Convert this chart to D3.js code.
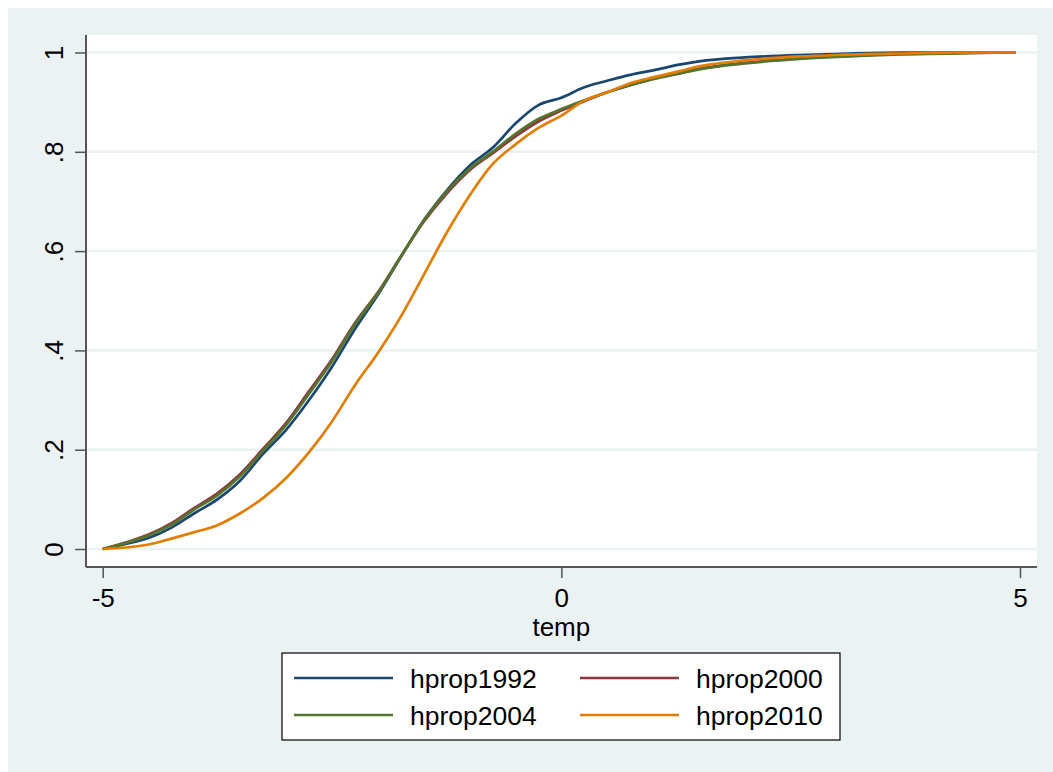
<!DOCTYPE html>
<html>
<head>
<meta charset="utf-8">
<script src="https://cdn.jsdelivr.net/npm/d3@7"></script>
<style>
  body { margin: 0; background: #fff; }
  text { font-family: Arial, "Liberation Sans", sans-serif; fill: #000; }
</style>
</head>
<body>
<svg id="chart" width="1053" height="772"></svg>
<script>
// temp grid the curves were read at
const temps = [-5, -4.75, -4.5, -4.25, -4, -3.75, -3.5, -3.25, -3, -2.75, -2.5, -2.25, -2, -1.75, -1.5, -1.25,
    -1, -0.75, -0.5, -0.25, 0, 0.25, 0.5, 0.75, 1, 1.3, 1.5, 2, 2.6, 3, 3.7, 4, 4.5, 4.95]

const hprop1992 = [0, 0.010, 0.022, 0.043, 0.072, 0.100, 0.138, 0.192, 0.240, 0.300, 0.367, 0.443, 0.512, 0.588, 0.662, 0.722,
    0.772, 0.808, 0.857, 0.894, 0.909, 0.930, 0.943, 0.955, 0.964, 0.976, 0.982, 0.990, 0.995, 0.997, 1.0, 1.0, 1.0, 1.0]
const hprop2000 = [0, 0.013, 0.029, 0.052, 0.083, 0.112, 0.151, 0.202, 0.254, 0.318, 0.382, 0.455, 0.517, 0.589, 0.659, 0.716,
    0.763, 0.797, 0.831, 0.861, 0.883, 0.902, 0.920, 0.934, 0.947, 0.959, 0.967, 0.979, 0.988, 0.992, 0.997, 0.998, 0.999, 1.0]
const hprop2004 = [0, 0.012, 0.027, 0.049, 0.080, 0.108, 0.147, 0.198, 0.250, 0.313, 0.378, 0.452, 0.515, 0.589, 0.661, 0.720,
    0.766, 0.800, 0.836, 0.866, 0.886, 0.904, 0.920, 0.934, 0.946, 0.958, 0.966, 0.978, 0.987, 0.991, 0.996, 0.997, 0.999, 1.0]
const hprop2010 = [0, 0.003, 0.009, 0.021, 0.034, 0.048, 0.072, 0.103, 0.143, 0.195, 0.257, 0.330, 0.395, 0.468, 0.552, 0.637,
    0.712, 0.775, 0.815, 0.848, 0.873, 0.903, 0.920, 0.938, 0.950, 0.963, 0.972, 0.984, 0.992, 0.995, 0.998, 0.999, 1.0, 1.0]

const seriesNames = ['hprop1992', 'hprop2000', 'hprop2004', 'hprop2010']
const seriesColors = ['#1a476f', '#90353b', '#55752f', '#e37e00']
const xTicks = [-5, 0, 5]
const yTicks = [0, 0.2, 0.4, 0.6, 0.8, 1]
const yTickLabels = ['0', '.2', '.4', '.6', '.8', '1']

const series = [hprop1992, hprop2000, hprop2004, hprop2010]

const svg = d3.select('#chart')
const bg = '#eaf2f3'
const axisCol = '#555'

// outer graph region
svg.append('rect').attr('x', 8).attr('y', 8).attr('width', 1045).attr('height', 764).attr('fill', bg)

// plot region
const plot = { left: 86, right: 1037, top: 35, bottom: 567 }
svg.append('rect')
    .attr('x', plot.left).attr('y', plot.top)
    .attr('width', plot.right - plot.left).attr('height', plot.bottom - plot.top)
    .attr('fill', '#fff')

const x = d3.scaleLinear().domain([-5, 5]).range([102.7, 1020])
const y = d3.scaleLinear().domain([0, 1]).range([549, 52.5])

// gridlines
svg.append('g').selectAll('line')
    .data(yTicks)
    .enter().append('line')
    .attr('x1', plot.left).attr('x2', plot.right)
    .attr('y1', d => y(d)).attr('y2', d => y(d))
    .attr('stroke', bg).attr('stroke-width', 2.5)

// lines
const line = d3.line()
    .x((d, i) => x(temps[i]))
    .y(d => y(d))
    .curve(d3.curveMonotoneX)

svg.append('g')
    .attr('fill', 'none')
    .attr('stroke-width', 2.7)
    .attr('stroke-linejoin', 'round')
    .selectAll('path')
    .data(series)
    .enter().append('path')
    .attr('d', d => line(d))
    .attr('stroke', (d, i) => seriesColors[i])

// y axis
const gy = svg.append('g').attr('transform', `translate(${plot.left},0)`)
    .call(d3.axisLeft(y).tickValues(yTicks).tickSize(11).tickFormat((d, i) => yTickLabels[i]))
gy.select('.domain').attr('d', `M0,${plot.top}V${plot.bottom}`).attr('stroke', axisCol).attr('stroke-width', 2)
gy.selectAll('.tick line').attr('stroke', axisCol).attr('stroke-width', 1.5)
gy.selectAll('.tick text')
    .attr('font-size', 26)
    .attr('font-family', 'Arial, "Liberation Sans", sans-serif')
    .attr('fill', '#000')
    .attr('transform', 'rotate(-90)')
    .attr('x', 0).attr('y', -23).attr('dy', 0)
    .attr('text-anchor', 'middle')

// x axis
const gx = svg.append('g').attr('transform', `translate(0,${plot.bottom})`)
    .call(d3.axisBottom(x).tickValues(xTicks).tickSize(11).tickFormat(d3.format('d')))
gx.select('.domain').attr('d', `M${plot.left},0H${plot.right}`).attr('stroke', axisCol).attr('stroke-width', 2)
gx.selectAll('.tick line').attr('stroke', axisCol).attr('stroke-width', 1.5)
gx.selectAll('.tick text')
    .attr('font-size', 26)
    .attr('font-family', 'Arial, "Liberation Sans", sans-serif')
    .attr('fill', '#000')
    .attr('y', 40).attr('dy', 0)
    .text(d => d < 0 ? '-' + Math.abs(d) : d)  // plain hyphen like the original

svg.append('text')
    .attr('x', x(0)).attr('y', 636)
    .attr('text-anchor', 'middle')
    .attr('font-size', 26)
    .text('temp')

// legend
const legend = svg.append('g')
legend.append('rect')
    .attr('x', 282).attr('y', 653).attr('width', 558).attr('height', 87)
    .attr('fill', '#fff').attr('stroke', '#000').attr('stroke-width', 1.2)

const cols = [294, 580]
const rows = [678, 715]
seriesNames.forEach((name, i) => {
    let cx = cols[i % 2], cy = rows[Math.floor(i / 2)]
    legend.append('line')
        .attr('x1', cx).attr('x2', cx + 99)
        .attr('y1', cy).attr('y2', cy)
        .attr('stroke', seriesColors[i]).attr('stroke-width', 2.7)
    legend.append('text')
        .attr('x', cx + 116).attr('y', cy + 10)
        .attr('font-size', 26.5)
        .text(name)
})
</script>
</body>
</html>
